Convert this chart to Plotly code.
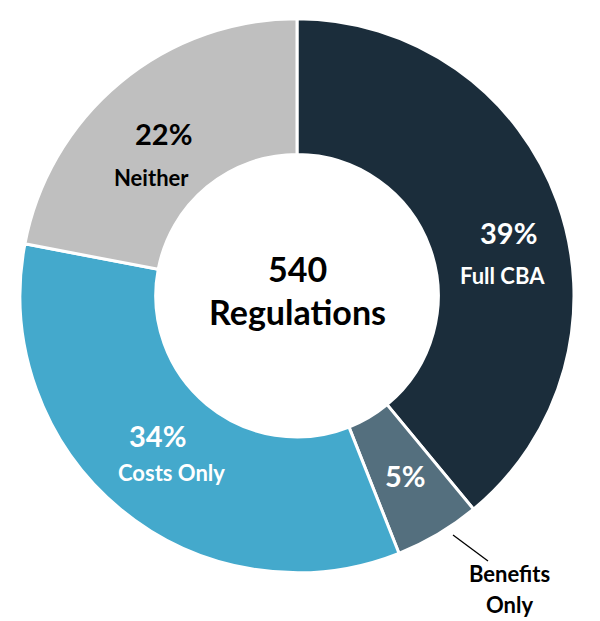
import plotly.graph_objects as go

categories = ["Full CBA", "Benefits Only", "Costs Only", "Neither"]
values = [39, 5, 34, 22]
colors = ["#1b2d3b", "#546f7e", "#44a9cc", "#bfbfbf"]
total_regs = 540

# page has an 8px body margin; work in page pixels and convert
OFF = 8
W, H = 600 - OFF, 621 - OFF
FONT = "Lato"


def px(x, y):
    return (x - OFF) / W, 1 - (y - OFF) / H


dx0, dy1 = px(20, 18.5)
dx1, dy0 = px(574, 573)

fig = go.Figure(go.Pie(
    labels=categories,
    values=values,
    hole=0.51,
    sort=False,
    direction="clockwise",
    rotation=0,
    marker=dict(colors=colors, line=dict(color="white", width=3)),
    textinfo="none",
    hoverinfo="label+percent",
    domain=dict(x=[dx0, dx1], y=[dy0, dy1]),
    showlegend=False,
))

annotations = []


def add(text, x, y, size, color):
    ax, ay = px(x, y)
    annotations.append(dict(
        text=f"<b>{text}</b>", x=ax, y=ay, xref="paper", yref="paper",
        xanchor="center", yanchor="middle", showarrow=False,
        font=dict(family=FONT, size=size, color=color)))


# label positions per category: (pct pos, label pos, text color)
pos = {
    "Full CBA": ((508, 232), (502, 276), "white"),
    "Benefits Only": ((405, 475), None, "white"),
    "Costs Only": ((157, 435), (171, 472), "white"),
    "Neither": ((164, 133), (151, 177), "black"),
}
for cat, v in zip(categories, values):
    (pp, lp, col) = pos[cat]
    add(f"{v}%", pp[0], pp[1], 29, col)
    if lp is not None:
        add(cat, lp[0], lp[1], 22, col)

# outside label for Benefits Only
add("Benefits", 509, 573, 22, "black")
add("Only", 509, 604, 22, "black")

# center text
add(str(total_regs), 297, 268, 34, "black")
add("Regulations", 297, 311, 34, "black")

x0, y0 = px(453, 535)
x1, y1 = px(488, 561)
fig.add_shape(type="line", xref="paper", yref="paper", x0=x0, y0=y0, x1=x1, y1=y1,
              line=dict(color="black", width=1.3))

fig.update_layout(
    width=W, height=H,
    margin=dict(l=0, r=0, t=0, b=0),
    paper_bgcolor="white",
    plot_bgcolor="white",
    annotations=annotations,
)

fig.write_html("out.html")
